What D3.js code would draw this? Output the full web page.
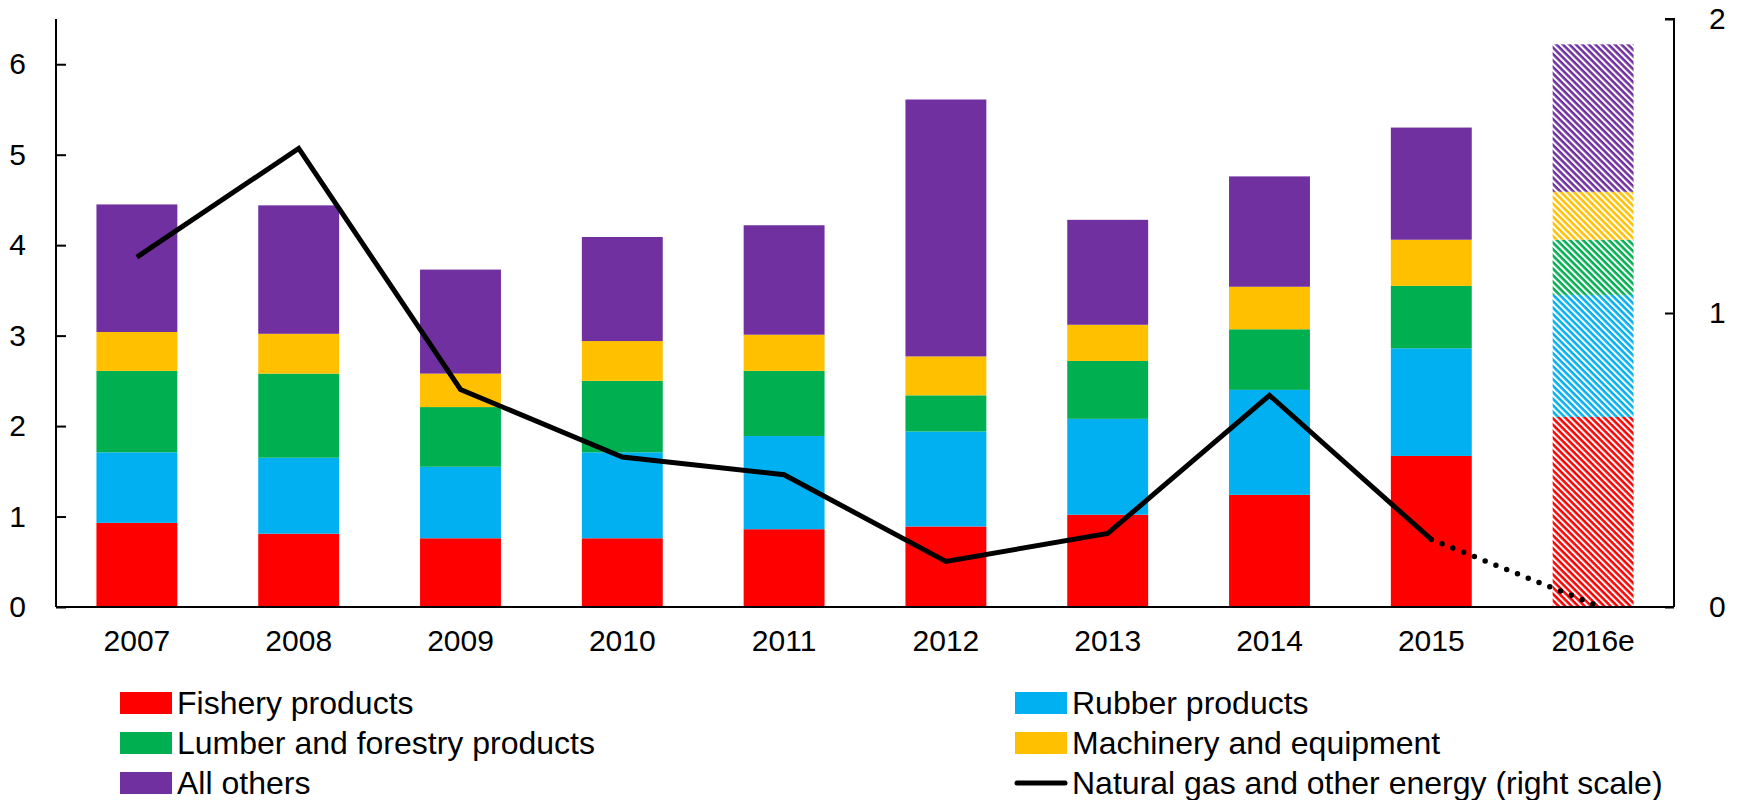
<!DOCTYPE html>
<html>
<head>
<meta charset="utf-8">
<script src="https://cdn.jsdelivr.net/npm/d3@7"></script>
<style>
  body { margin: 0; background: #fff; }
  text { font-family: "Liberation Sans", Arial, sans-serif; fill: #000; }
</style>
</head>
<body>
<script>
// data
var years = ["2007", "2008", "2009", "2010", "2011", "2012", "2013", "2014", "2015", "2016e"];
var fishery   = [0.93, 0.81, 0.76, 0.76, 0.86, 0.89, 1.02, 1.24, 1.67, 2.10];
var rubber    = [0.78, 0.84, 0.79, 0.95, 1.03, 1.05, 1.06, 1.16, 1.19, 1.35];
var lumber    = [0.90, 0.93, 0.66, 0.79, 0.72, 0.40, 0.64, 0.67, 0.69, 0.61];
var machinery = [0.43, 0.44, 0.37, 0.44, 0.40, 0.43, 0.40, 0.47, 0.51, 0.53];
var others    = [1.41, 1.42, 1.15, 1.15, 1.21, 2.84, 1.16, 1.22, 1.24, 1.63];
var energy    = [1.19, 1.56, 0.74, 0.51, 0.45, 0.155, 0.25, 0.72, 0.23, 0.01];
var leftTicks = [0, 1, 2, 3, 4, 5, 6];
var rightTicks = [0, 1, 2];

var seriesKeys = ["fishery", "rubber", "lumber", "machinery", "others"];
var seriesNames = {
    fishery: "Fishery products",
    rubber: "Rubber products",
    lumber: "Lumber and forestry products",
    machinery: "Machinery and equipment",
    others: "All others"
};
var colors = {
    fishery: "#FF0000",
    rubber: "#00B0F0",
    lumber: "#00B050",
    machinery: "#FFC000",
    others: "#7030A0"
};
var lineName = "Natural gas and other energy (right scale)";

var totalWidth = 1737, totalHeight = 800;
var margin = {top: 19, left: 56, right: 63, bottom: 193};
var width = totalWidth - margin.left - margin.right,
    height = totalHeight - margin.top - margin.bottom;

var rows = years.map(function (y, i) {
    return {year: y, fishery: fishery[i], rubber: rubber[i], lumber: lumber[i],
            machinery: machinery[i], others: others[i]};
});
var stacked = d3.stack().keys(seriesKeys)(rows);

var svg = d3.select("body").append("svg")
    .attr("width", totalWidth)
    .attr("height", totalHeight);

// hatch patterns for the estimate bar
var hatch = 4.6;
var defs = svg.append("defs");
seriesKeys.forEach(function (k) {
    var p = defs.append("pattern")
        .attr("id", "hatch-" + k)
        .attr("patternUnits", "userSpaceOnUse")
        .attr("width", hatch)
        .attr("height", hatch)
        .attr("patternTransform", "rotate(45)");
    p.append("rect").attr("width", hatch).attr("height", hatch).attr("fill", "#fff");
    p.append("rect").attr("width", hatch).attr("height", hatch * 0.55).attr("fill", colors[k]);
});

var g = svg.append("g").attr("transform", "translate(" + margin.left + "," + margin.top + ")");

var x = d3.scaleBand().domain(years).range([0, width]).paddingInner(0.5).paddingOuter(0.25);
var y = d3.scaleLinear().domain([0, 6.5]).range([height, 0]);
var y2 = d3.scaleLinear().domain([0, 2]).range([height, 0]);

// stacked bars
g.selectAll(".layer")
    .data(stacked)
    .enter().append("g")
    .attr("class", "layer")
    .each(function (layer) {
        d3.select(this).selectAll("rect")
            .data(layer)
            .enter().append("rect")
            .attr("x", function (d) { return x(d.data.year); })
            .attr("width", x.bandwidth())
            .attr("y", function (d) { return y(d[1]); })
            .attr("height", function (d) { return y(d[0]) - y(d[1]); })
            .attr("fill", function (d) {
                return d.data.year === "2016e" ? "url(#hatch-" + layer.key + ")" : colors[layer.key];
            });
    });

// energy line, solid up to 2015 then dotted
var cx = function (i) { return x(years[i]) + x.bandwidth() / 2; };
var line = d3.line()
    .x(function (d) { return cx(d.i); })
    .y(function (d) { return y2(d.v); });
var pts = energy.map(function (v, i) { return {i: i, v: v}; });

g.append("path")
    .datum(pts.slice(0, 9))
    .attr("d", line)
    .attr("fill", "none")
    .attr("stroke", "#000")
    .attr("stroke-width", 5)
    .attr("stroke-linejoin", "miter");

g.append("path")
    .datum(pts.slice(8))
    .attr("d", line)
    .attr("fill", "none")
    .attr("stroke", "#000")
    .attr("stroke-width", 5.5)
    .attr("stroke-linecap", "round")
    .attr("stroke-dasharray", "0 11.6")
    .attr("stroke-dashoffset", -11.6);

// axes
var leftAxis = g.append("g")
    .call(d3.axisLeft(y).tickValues(leftTicks).tickSize(-10).tickPadding(30).tickFormat(d3.format("d")));
var rightAxis = g.append("g")
    .attr("transform", "translate(" + width + ",0)")
    .call(d3.axisRight(y2).tickValues(rightTicks).tickSize(-9).tickPadding(35).tickFormat(d3.format("d")));
var bottomAxis = g.append("g")
    .attr("transform", "translate(0," + height + ")")
    .call(d3.axisBottom(x).tickSize(0).tickPadding(23));

[leftAxis, rightAxis, bottomAxis].forEach(function (a) {
    a.select(".domain").attr("stroke", "#000").attr("stroke-width", 2);
    a.selectAll(".tick line").attr("stroke", "#000").attr("stroke-width", 2);
    a.selectAll("text").attr("font-size", 30).attr("font-family", "Liberation Sans, Arial, sans-serif");
});
// the axis domain path draws outer ticks; redraw plain lines
leftAxis.select(".domain").attr("d", "M0," + height + "V0H-0");
rightAxis.select(".domain").attr("d", "M-9,0H0V" + height);
bottomAxis.select(".domain").attr("d", "M0,0H" + width);

// legend
var legendItems = [
    {key: "fishery", col: 0, row: 0},
    {key: "rubber", col: 1, row: 0},
    {key: "lumber", col: 0, row: 1},
    {key: "machinery", col: 1, row: 1},
    {key: "others", col: 0, row: 2},
    {key: "energy", col: 1, row: 2}
];
var legendX = [120, 1015], legendY = 703, rowStep = 40;
var legend = svg.append("g");
legendItems.forEach(function (it) {
    var lx = legendX[it.col], ly = legendY + it.row * rowStep;
    if (it.key === "energy") {
        legend.append("line")
            .attr("x1", lx + 2).attr("x2", lx + 50)
            .attr("y1", ly).attr("y2", ly)
            .attr("stroke", "#000").attr("stroke-width", 5).attr("stroke-linecap", "round");
    } else {
        legend.append("rect")
            .attr("x", lx).attr("y", ly - 11)
            .attr("width", 52).attr("height", 22)
            .attr("fill", colors[it.key]);
    }
    legend.append("text")
        .attr("x", lx + 57).attr("y", ly)
        .attr("dy", "0.35em")
        .attr("font-size", 32)
        .text(it.key === "energy" ? lineName : seriesNames[it.key]);
});
</script>
</body>
</html>
